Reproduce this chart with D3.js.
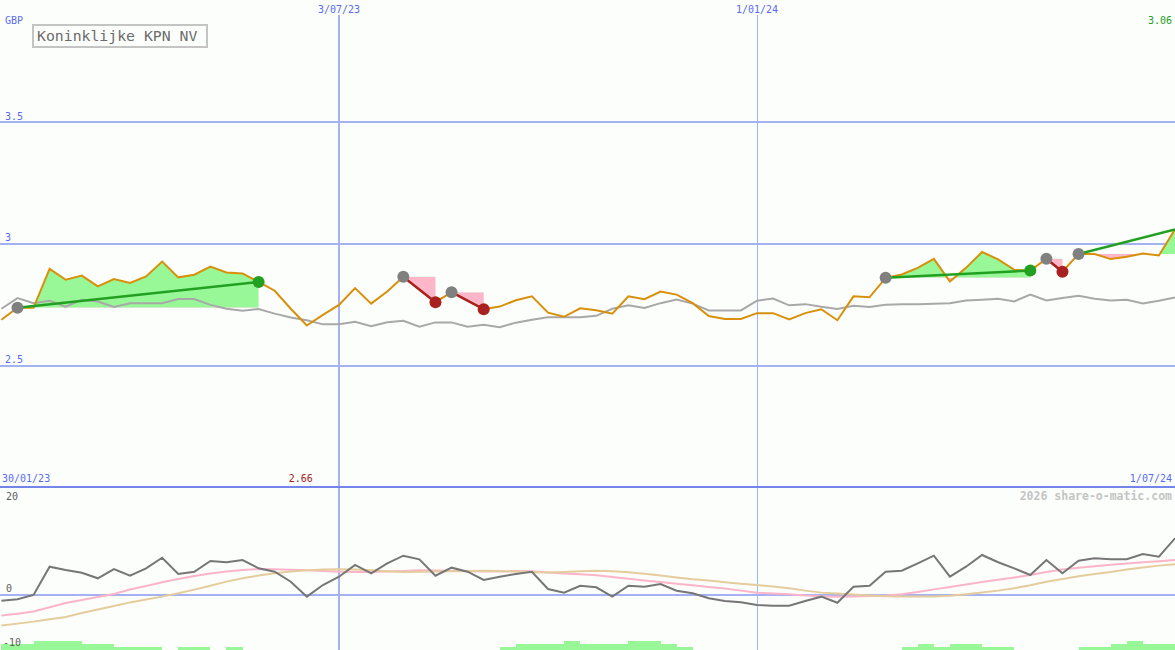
<!DOCTYPE html>
<html>
<head>
<meta charset="utf-8">
<script src="https://cdn.jsdelivr.net/npm/d3@7/dist/d3.min.js"></script>
<style>
  html, body { margin: 0; padding: 0; background: #fcfefc; }
  svg { display: block; }
  text { font-family: "DejaVu Sans Mono", "Liberation Mono", monospace; }
</style>
</head>
<body>
<svg id="chart" width="1175" height="650"></svg>
<script>
// ---------------- DATA ----------------
const title = "Koninklijke KPN NV";
const currency = "GBP";
const firstDate = "2023-02-06";   // first weekly point (Mondays)
const nPoints = 74;

// weekly close price (GBP)
const price = [2.688, 2.737, 2.737, 2.897, 2.852, 2.869, 2.825, 2.855, 2.839, 2.866,
  2.927, 2.862, 2.873, 2.906, 2.882, 2.878, 2.843, 2.807, 2.733, 2.664,
  2.708, 2.749, 2.818, 2.754, 2.804, 2.864, 2.811, 2.760, 2.801, 2.766,
  2.731, 2.742, 2.768, 2.784, 2.717, 2.700, 2.735, 2.727, 2.713, 2.784,
  2.772, 2.804, 2.791, 2.756, 2.703, 2.691, 2.691, 2.715, 2.715, 2.689,
  2.715, 2.731, 2.686, 2.784, 2.780, 2.860, 2.874, 2.901, 2.938, 2.845,
  2.901, 2.966, 2.936, 2.893, 2.890, 2.938, 2.885, 2.958, 2.958, 2.937,
  2.947, 2.960, 2.952, 3.059];

// relative / index line (grey)
const relative = [2.733, 2.777, 2.756, 2.766, 2.742, 2.770, 2.763, 2.740, 2.756, 2.756,
  2.756, 2.773, 2.773, 2.749, 2.733, 2.725, 2.732, 2.713, 2.697, 2.686,
  2.669, 2.669, 2.680, 2.661, 2.678, 2.684, 2.659, 2.677, 2.677, 2.659,
  2.667, 2.657, 2.676, 2.688, 2.698, 2.698, 2.698, 2.704, 2.733, 2.747,
  2.736, 2.756, 2.771, 2.754, 2.726, 2.726, 2.726, 2.766, 2.775, 2.747,
  2.752, 2.741, 2.732, 2.745, 2.740, 2.749, 2.752, 2.752, 2.754, 2.756,
  2.767, 2.770, 2.774, 2.763, 2.791, 2.767, 2.777, 2.786, 2.774, 2.767,
  2.770, 2.755, 2.766, 2.779];

// lower panel: momentum (dark grey) and two averages (pink, tan)
const momentum = [-1.06, -0.8, 0, 5.24, 4.63, 4.13, 3.09, 4.81, 3.57, 4.94,
  6.91, 3.89, 4.31, 6.3, 6.06, 6.48, 4.94, 4.31, 2.46, -0.31,
  1.85, 3.39, 5.56, 4.02, 5.87, 7.28, 6.61, 3.57, 5.06, 4.31,
  2.78, 3.39, 3.89, 4.31, 1.11, 0.43, 1.72, 1.43, -0.31, 1.72,
  1.54, 2.04, 0.8, 0.31, -0.61, -1.11, -1.35, -1.85, -1.98, -1.98,
  -1.11, -0.31, -1.43, 1.54, 1.72, 4.31, 4.5, 5.87, 7.28, 3.39,
  5.24, 7.41, 6.06, 4.94, 3.7, 6.48, 4.02, 6.35, 6.8, 6.61,
  6.61, 7.59, 7.09, 10.5];
const avgFast = [-3.8, -3.46, -3.07, -2.28, -1.48, -0.93, -0.37, 0.19, 1.02, 1.67,
  2.35, 2.96, 3.52, 3.98, 4.35, 4.63, 4.81, 4.76, 4.67, 4.57,
  4.44, 4.31, 4.26, 4.26, 4.35, 4.44, 4.57, 4.54, 4.44, 4.39,
  4.33, 4.35, 4.44, 4.39, 4.15, 3.96, 3.83, 3.67, 3.33, 3.0,
  2.69, 2.41, 2.09, 1.8, 1.48, 1.19, 0.81, 0.43, 0.28, 0.13,
  -0.11, -0.24, -0.31, -0.28, -0.19, -0.09, 0.13, 0.56, 1.04, 1.48,
  1.94, 2.41, 2.81, 3.24, 3.7, 4.26, 4.74, 5.04, 5.33, 5.59,
  5.83, 6.06, 6.26, 6.48];
const avgSlow = [-5.65, -5.3, -4.93, -4.48, -4.06, -3.33, -2.69, -2.04, -1.37, -0.83,
  -0.3, 0.31, 1.0, 1.7, 2.48, 3.09, 3.61, 4.02, 4.33, 4.56,
  4.72, 4.78, 4.7, 4.59, 4.41, 4.26, 4.31, 4.35, 4.41, 4.44,
  4.48, 4.44, 4.33, 4.22, 4.15, 4.26, 4.39, 4.5, 4.41, 4.22,
  3.93, 3.63, 3.26, 2.93, 2.67, 2.37, 2.07, 1.85, 1.56, 1.26,
  0.81, 0.44, 0.28, 0.09, -0.07, -0.22, -0.3, -0.3, -0.26, -0.15,
  0.15, 0.46, 0.81, 1.26, 1.8, 2.46, 2.96, 3.48, 3.89, 4.26,
  4.74, 5.11, 5.44, 5.7];
// bottom strength bars (0..3), one per week interval
const strength = [2, 2, 3, 3, 3, 2, 2, 1, 1, 1,
  0, 1, 1, 0, 1, 0, 0, 0, 0, 0,
  0, 0, 0, 0, 0, 0, 0, 0, 0, 0,
  0, 1, 2, 2, 2, 3, 2, 2, 2, 3,
  3, 2, 1, 0, 0, 0, 0, 0, 0, 0,
  0, 0, 0, 0, 0, 0, 1, 2, 1, 2,
  2, 1, 1, 0, 0, 0, 0, 1, 1, 2,
  3, 2, 2, 0];

// signals: entry / exit index into the weekly series
const tradeEntry = [1, 25, 28, 55, 65, 67];
const tradeExit  = [16, 27, 30, 64, 66, 73];
const tradeClosed = [true, true, true, true, true, false];

// axis ticks
const priceTicks = [2.5, 3, 3.5];
const priceTickLabels = ["2.5", "3", "3.5"];
const lowTicks = [20, 0, -10];
const lowTickLabels = ["20", "0", "-10"];
const dateLines = ["2023-07-03", "2024-01-01"];
const dateLineLabels = ["3/07/23", "1/01/24"];
const dateLineWidths = [2, 1];
const startLabel = "30/01/23";
const endLabel = "1/07/24";
const credit = "2026 share-o-matic.com";

// ---------------- CHART ----------------
const W = 1175, H = 650;
const svg = d3.select("#chart");
const parse = d3.utcParse("%Y-%m-%d");
const dates = d3.range(nPoints).map(i => d3.utcDay.offset(parse(firstDate), 7 * i));

const x = d3.scaleUtc()
  .domain([parse("2023-07-03"), parse("2024-01-01")])
  .range([339, 757]);
const y = d3.scaleLinear().domain([2.5, 3.5]).range([365.5, 122]);
const yLow = d3.scaleLinear().domain([-10, 20]).range([649, 487]);
const yBar = d3.scaleLinear().domain([0, 3]).range([650, 641]);

const BLUE_TXT = "#5a6af0";
const GRID = "#a4b2f2";
const ORANGE = "#d8900a";
const GREY = "#a8a8a8";
const GREEN = "#22a022";
const RED = "#a82020";
const FILL_G = "#98f898";
const FILL_P = "#ffb6c8";

svg.append("rect").attr("width", W).attr("height", H).attr("fill", "#fcfefc");

const defs = svg.append("defs");
defs.append("clipPath").attr("id", "clipMain")
  .append("rect").attr("x", 0).attr("y", 0).attr("width", W).attr("height", 486);
defs.append("clipPath").attr("id", "clipLow")
  .append("rect").attr("x", 0).attr("y", 488).attr("width", W).attr("height", H - 488);

// grid
const grid = svg.append("g").attr("shape-rendering", "crispEdges");
grid.selectAll("line.h").data(priceTicks).join("line")
  .attr("x1", 0).attr("x2", W)
  .attr("y1", d => Math.round(y(d))).attr("y2", d => Math.round(y(d)))
  .attr("stroke", GRID).attr("stroke-width", 2);
grid.append("line").attr("x1", 0).attr("x2", W)
  .attr("y1", Math.round(yLow(0))).attr("y2", Math.round(yLow(0)))
  .attr("stroke", GRID).attr("stroke-width", 2);
grid.selectAll("line.v").data(dateLines).join("line")
  .attr("x1", d => Math.round(x(parse(d)))).attr("x2", d => Math.round(x(parse(d))))
  .attr("y1", 15).attr("y2", H)
  .attr("stroke", GRID).attr("stroke-width", (d, i) => dateLineWidths[i]);
grid.append("line").attr("x1", 0).attr("x2", W).attr("y1", 487).attr("y2", 487)
  .attr("stroke", "#7484ea").attr("stroke-width", 2);

// ---- main panel ----
const main = svg.append("g").attr("clip-path", "url(#clipMain)");

// trade fills (green above entry price, pink below)
tradeEntry.forEach((e, t) => {
  const xIdx = d3.range(e, tradeExit[t] + 1);
  const base = price[e];
  const yb = y(base);
  const area = d3.area()
    .x(i => x(dates[i]))
    .y0(yb)
    .y1(i => y(price[i]));
  const gid = "tg" + t, pid = "tp" + t;
  defs.append("clipPath").attr("id", gid)
    .append("rect").attr("x", 0).attr("y", 0).attr("width", W).attr("height", yb);
  defs.append("clipPath").attr("id", pid)
    .append("rect").attr("x", 0).attr("y", yb).attr("width", W).attr("height", 486 - yb);
  main.append("path").datum(xIdx).attr("d", area)
    .attr("fill", FILL_G).attr("clip-path", `url(#${gid})`);
  main.append("path").datum(xIdx).attr("d", area)
    .attr("fill", FILL_P).attr("clip-path", `url(#${pid})`);
});

const lineMain = arr => d3.line().x((d, i) => x(dates[i])).y(d => y(d))(arr);
main.append("path").attr("d", lineMain(relative))
  .attr("fill", "none").attr("stroke", GREY).attr("stroke-width", 2);
main.append("path").attr("d", lineMain(price))
  .attr("fill", "none").attr("stroke", ORANGE).attr("stroke-width", 2);

// trade lines
tradeEntry.forEach((e, t) => {
  const xi = tradeExit[t];
  const up = price[xi] > price[e];
  main.append("line")
    .attr("x1", x(dates[e])).attr("y1", y(price[e]))
    .attr("x2", x(dates[xi])).attr("y2", y(price[xi]))
    .attr("stroke", up ? GREEN : RED).attr("stroke-width", 2.5);
});
// markers
tradeEntry.forEach((e, t) => {
  const xi = tradeExit[t];
  const up = price[xi] > price[e];
  main.append("circle").attr("cx", x(dates[e])).attr("cy", y(price[e])).attr("r", 6)
    .attr("fill", "#808080");
  if (tradeClosed[t]) {
    main.append("circle").attr("cx", x(dates[xi])).attr("cy", y(price[xi])).attr("r", 6)
      .attr("fill", up ? GREEN : RED);
  }
});

// ---- lower panel ----
const low = svg.append("g").attr("clip-path", "url(#clipLow)");
low.selectAll("rect.bar").data(strength.slice(0, nPoints - 1)).join("rect")
  .attr("x", (d, i) => x(dates[i]))
  .attr("width", (d, i) => x(dates[i + 1]) - x(dates[i]))
  .attr("y", d => yBar(d))
  .attr("height", d => yBar(0) - yBar(d))
  .attr("fill", FILL_G)
  .attr("shape-rendering", "crispEdges");

const lineLow = arr => d3.line().x((d, i) => x(dates[i])).y(d => yLow(d))(arr);
low.append("path").attr("d", lineLow(avgFast))
  .attr("fill", "none").attr("stroke", "#fcb4c8").attr("stroke-width", 2);
low.append("path").attr("d", lineLow(avgSlow))
  .attr("fill", "none").attr("stroke", "#e4cc9c").attr("stroke-width", 2);
low.append("path").attr("d", lineLow(momentum))
  .attr("fill", "none").attr("stroke", "#767676").attr("stroke-width", 2);

// ---- texts ----
const small = 10;
svg.append("text").attr("x", 5).attr("y", 24).attr("font-size", small)
  .attr("fill", BLUE_TXT).text(currency);
svg.selectAll("text.pt").data(priceTicks).join("text")
  .attr("x", 5).attr("y", d => y(d) - 2.5).attr("font-size", small)
  .attr("fill", BLUE_TXT).text((d, i) => priceTickLabels[i]);
svg.selectAll("text.dl").data(dateLines).join("text")
  .attr("x", d => x(parse(d))).attr("y", 13).attr("text-anchor", "middle")
  .attr("font-size", small).attr("fill", BLUE_TXT)
  .text((d, i) => dateLineLabels[i]);
svg.append("text").attr("x", 1172).attr("y", 24).attr("text-anchor", "end")
  .attr("font-size", small).attr("fill", GREEN)
  .text(price[nPoints - 1].toFixed(2));

// bottom date labels
svg.append("text").attr("x", 2).attr("y", 482).attr("font-size", small)
  .attr("fill", BLUE_TXT).text(startLabel);
svg.append("text").attr("x", 1172).attr("y", 482).attr("text-anchor", "end")
  .attr("font-size", small).attr("fill", BLUE_TXT).text(endLabel);
const minIdx = d3.minIndex(price);
svg.append("text").attr("x", x(dates[minIdx]) + 6).attr("y", 482).attr("text-anchor", "end")
  .attr("font-size", small).attr("fill", RED).text(price[minIdx].toFixed(2));

svg.append("text").attr("x", 1172).attr("y", 500).attr("text-anchor", "end")
  .attr("font-size", 11.5).attr("font-weight", "bold").attr("fill", "#c4c4c4").text(credit);

// lower panel tick labels (clamped inside panel)
svg.selectAll("text.lt").data(lowTicks).join("text")
  .attr("x", (d, i) => lowTickLabels[i].length > 2 ? 3 : 6)
  .attr("y", d => Math.max(500, Math.min(646, yLow(d) - 3)))
  .attr("font-size", small).attr("fill", "#606060")
  .text((d, i) => lowTickLabels[i]);

// title box
svg.append("rect").attr("x", 33).attr("y", 25).attr("width", 174).attr("height", 22)
  .attr("fill", "#fcfefc").attr("stroke", "#c4c4c4").attr("stroke-width", 2);
svg.append("text").attr("x", 37).attr("y", 41).attr("font-size", 14.8)
  .attr("fill", "#6c6c6c").text(title);
</script>
</body>
</html>
